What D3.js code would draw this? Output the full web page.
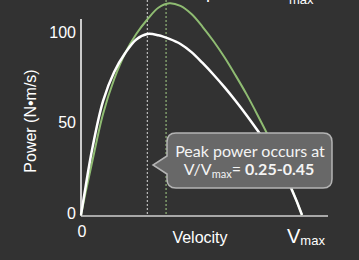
<!DOCTYPE html>
<html>
<head>
<meta charset="utf-8">
<script src="https://cdn.jsdelivr.net/npm/d3@7"></script>
<style>
  body { margin: 0; background: #323232; }
  svg { display: block; }
</style>
</head>
<body>
<div id="plot"></div>
<script>
// values (velocity as a fraction of Vmax, power in N·m/s)
var velocity   = [0, 0.02, 0.05, 0.10, 0.15, 0.20, 0.25, 0.30, 0.35, 0.40, 0.45, 0.50,
                  0.55, 0.60, 0.65, 0.70, 0.75, 0.80, 0.85, 0.90, 0.95, 1.0];
var powerWhite = [0, 15, 36, 63, 79, 89.5, 97, 100, 99.3, 97.3, 94.5, 90,
                  84, 77.5, 70.5, 63, 55, 46.5, 37.5, 27.5, 15, 0];
var powerGreen = [0, 12, 29, 56, 75, 89.5, 100, 108, 114.5, 117, 115.5, 111,
                  104, 96, 87, 77, 66.5, 55, 43, 30, 15.5, 0];
var peakWhite = 0.30, peakGreen = 0.385;
var yTicks = [0, 50, 100];

var width = 359, height = 260;

var x = d3.scaleLinear().domain([0, 1]).range([81, 302]);
var y = d3.scaleLinear().domain([0, 100]).range([215, 34]);

var svg = d3.select("#plot").append("svg")
    .attr("width", width)
    .attr("height", height);

// title, cut off by the top edge as in the source
svg.append("text")
    .attr("x", 288).attr("y", -2)
    .attr("text-anchor", "end")
    .attr("font-family", "Liberation Sans, Arial, sans-serif")
    .attr("font-size", 18).attr("fill", "#fff")
    .text("Maximal at optimal V/V");
svg.append("text")
    .attr("x", 289).attr("y", 4)
    .attr("font-family", "Liberation Sans, Arial, sans-serif")
    .attr("font-size", 13).attr("fill", "#fff")
    .text("max");

// dotted lines at the peaks
svg.append("line")
    .attr("x1", x(peakWhite)).attr("x2", x(peakWhite))
    .attr("y1", 0).attr("y2", y(0))
    .attr("stroke", "#d8d8d8").attr("stroke-width", 1)
    .attr("stroke-dasharray", "2,2");
svg.append("line")
    .attr("x1", x(peakGreen)).attr("x2", x(peakGreen))
    .attr("y1", 0).attr("y2", y(0))
    .attr("stroke", "#7f9c6b").attr("stroke-width", 1.5)
    .attr("stroke-dasharray", "2,2");

// axes
svg.append("line")
    .attr("x1", x(0)).attr("x2", 328)
    .attr("y1", y(0) + 1).attr("y2", y(0) + 1)
    .attr("stroke", "#a8a8a8").attr("stroke-width", 2);
svg.append("line")
    .attr("x1", x(0)).attr("x2", x(0))
    .attr("y1", 19).attr("y2", y(0) + 1)
    .attr("stroke", "#fff").attr("stroke-width", 1.5);

var yAxis = svg.append("g")
    .attr("transform", "translate(" + x(0) + ",-2)")
    .call(d3.axisLeft(y).tickValues(yTicks).tickSize(0).tickPadding(5));
yAxis.select(".domain").remove();
yAxis.selectAll("text")
    .attr("fill", "#fff")
    .attr("font-family", "Liberation Sans, Arial, sans-serif")
    .attr("font-size", 16);

// curves
var line = d3.line()
    .x(function(d, i) { return x(velocity[i]); })
    .y(function(d) { return y(d); })
    .curve(d3.curveCatmullRom.alpha(0.5));
svg.append("path")
    .attr("d", line(powerGreen))
    .attr("fill", "none").attr("stroke", "#8fbc72").attr("stroke-width", 2);
svg.append("path")
    .attr("d", line(powerWhite))
    .attr("fill", "none").attr("stroke", "#fff").attr("stroke-width", 2.5);

// axis labels
svg.append("text")
    .attr("transform", "translate(32,121) rotate(-90)")
    .attr("text-anchor", "middle").attr("dominant-baseline", "middle")
    .attr("font-family", "Liberation Sans, Arial, sans-serif")
    .attr("font-size", 16).attr("fill", "#fff")
    .text("Power (N\u2022m/s)");
svg.append("text")
    .attr("x", x(0) + 1).attr("y", 237)
    .attr("text-anchor", "middle")
    .attr("font-family", "Liberation Sans, Arial, sans-serif")
    .attr("font-size", 16).attr("fill", "#fff")
    .text("0");
svg.append("text")
    .attr("x", 200).attr("y", 243)
    .attr("text-anchor", "middle")
    .attr("font-family", "Liberation Sans, Arial, sans-serif")
    .attr("font-size", 16).attr("fill", "#fff")
    .text("Velocity");
var vmax = svg.append("text")
    .attr("x", 287).attr("y", 243)
    .attr("font-family", "Liberation Sans, Arial, sans-serif")
    .attr("fill", "#fff");
vmax.append("tspan").attr("font-size", 20).text("V");
vmax.append("tspan").attr("font-size", 13).attr("dy", 2).text("max");

// callout
var bx0 = 167, bx1 = 332, by0 = 133, by1 = 188, r = 9;
var callout = "M" + (bx0 + r) + "," + by0 +
    " H" + (bx1 - r) + " Q" + bx1 + "," + by0 + " " + bx1 + "," + (by0 + r) +
    " V" + (by1 - r) + " Q" + bx1 + "," + by1 + " " + (bx1 - r) + "," + by1 +
    " H" + (bx0 + r) + " Q" + bx0 + "," + by1 + " " + bx0 + "," + (by1 - r) +
    " V174 L153,165 L" + bx0 + ",156" +
    " V" + (by0 + r) + " Q" + bx0 + "," + by0 + " " + (bx0 + r) + "," + by0 + " Z";
svg.append("path")
    .attr("d", callout)
    .attr("fill", "#686868")
    .attr("stroke", "#b4b4b4").attr("stroke-width", 1.5);

svg.append("text")
    .attr("x", 250).attr("y", 157)
    .attr("text-anchor", "middle")
    .attr("font-family", "Lato, sans-serif")
    .attr("font-size", 16).attr("fill", "#f4f4f4")
    .text("Peak power occurs at");
var t2 = svg.append("text")
    .attr("x", 249).attr("y", 175)
    .attr("text-anchor", "middle")
    .attr("font-family", "Lato, sans-serif")
    .attr("font-size", 16).attr("fill", "#f4f4f4");
t2.append("tspan").text("V/V");
t2.append("tspan").attr("font-size", 11).attr("dy", 3).text("max");
t2.append("tspan").attr("dy", -3).text("= ");
t2.append("tspan").attr("font-weight", "bold").text("0.25-0.45");
</script>
</body>
</html>
